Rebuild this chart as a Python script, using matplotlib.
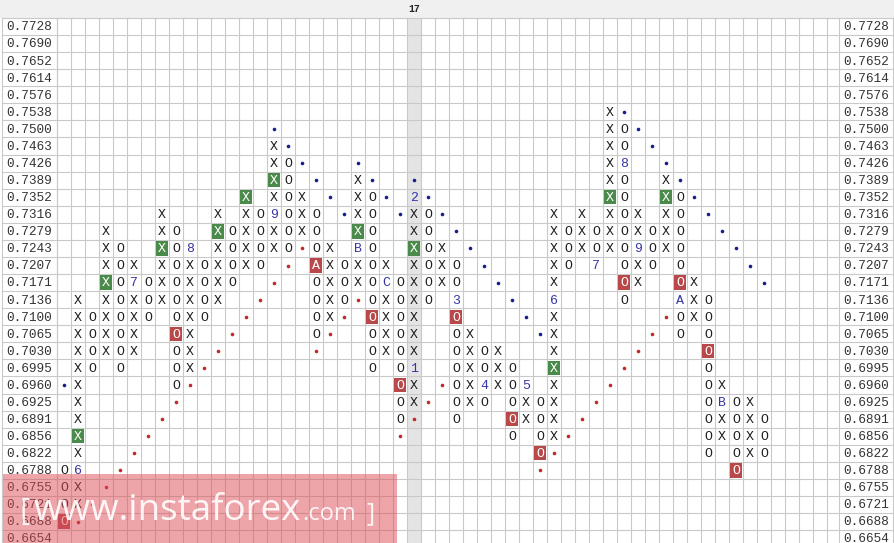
import matplotlib
matplotlib.use("Agg")
import matplotlib.pyplot as plt
from matplotlib.patches import Rectangle

# price levels, one per row (top to bottom)
prices = ["0.7728", "0.7690", "0.7652", "0.7614", "0.7576", "0.7538", "0.7500",
          "0.7463", "0.7426", "0.7389", "0.7352", "0.7316", "0.7279", "0.7243",
          "0.7207", "0.7171", "0.7136", "0.7100", "0.7065", "0.7030", "0.6995",
          "0.6960", "0.6925", "0.6891", "0.6856", "0.6822", "0.6788", "0.6755",
          "0.6721", "0.6688", "0.6654"]

# P&F columns: even = O column, odd = X column; row span (top row, bottom row)
col_top = [26, 16, 17, 12, 13, 14, 15, 11, 12, 13, 14, 11, 12, 10, 11, 7, 8, 10, 11, 13,
           14, 9, 10, 14, 15, 10, 11, 13, 14, 18, 19, 19, 20, 21, 22, 11, 12, 11, 12, 5,
           6, 11, 12, 9, 10, 15, 16, 21, 22, 22, 23]
col_bottom = [29, 28, 20, 19, 20, 19, 17, 16, 21, 20, 17, 16, 15, 14, 14, 13, 13, 12, 18, 17,
              16, 15, 20, 19, 23, 22, 16, 15, 23, 22, 22, 21, 24, 23, 25, 24, 14, 13, 14, 13,
              16, 15, 14, 13, 18, 17, 25, 24, 26, 25, 25]

# month markers (col, row, label)
months = [(1, 26, "6"), (5, 15, "7"), (9, 13, "8"), (15, 11, "9"), (18, 14, "A"),
          (21, 13, "B"), (23, 15, "C"), (25, 20, "1"), (25, 10, "2"), (28, 16, "3"),
          (30, 21, "4"), (33, 21, "5"), (35, 16, "6"), (38, 14, "7"), (40, 8, "8"),
          (41, 13, "9"), (44, 16, "A"), (47, 22, "B")]

# highlighted boxes
green_boxes = [(1, 24), (3, 15), (7, 13), (11, 12), (13, 10), (15, 9), (21, 12),
               (25, 13), (35, 20), (39, 10), (43, 10)]
red_boxes = [(0, 29), (8, 18), (18, 14), (22, 17), (24, 21), (28, 17), (32, 23),
             (34, 25), (40, 15), (44, 15), (46, 19), (48, 26)]

# trend lines
blue_dots = [(0, 21), (15, 6), (16, 7), (17, 8), (18, 9), (19, 10), (20, 11),
             (21, 8), (22, 9), (23, 10), (24, 11),
             (25, 9), (26, 10), (27, 11), (28, 12), (29, 13), (30, 14), (31, 15),
             (32, 16), (33, 17), (34, 18),
             (40, 5), (41, 6), (42, 7), (43, 8), (44, 9), (45, 10), (46, 11),
             (47, 12), (48, 13), (49, 14), (50, 15)]
red_dots = [(1, 29), (2, 28), (3, 27), (4, 26), (5, 25), (6, 24), (7, 23), (8, 22),
            (9, 21), (10, 20), (11, 19), (12, 18), (13, 17), (14, 16), (15, 15),
            (16, 14), (17, 13),
            (18, 19), (19, 18), (20, 17), (21, 16),
            (24, 24), (25, 23), (26, 22), (27, 21),
            (34, 26), (35, 25), (36, 24), (37, 23), (38, 22), (39, 21), (40, 20),
            (41, 19), (42, 18), (43, 17)]

header_col, header_text = 25, "17"

# layout (pixels)
W, H = 895, 543
CW, CH = 14.0, 17.07
LEFT, TOP = 57, 18
n_grid_cols = 56

x_left = -0.5 - LEFT / CW
x_right = x_left + W / CW
y_top = -0.5 - TOP / CH
y_bot = y_top + H / CH

def px_x(p):
    return x_left + p / CW

mono = "Liberation Mono"
grid_c = "#c9c9c9"

fig = plt.figure(figsize=(W / 100, H / 100), dpi=100)
ax = fig.add_axes([0, 0, 1, 1])
ax.set_xlim(x_left, x_right)
ax.set_ylim(y_bot, y_top)
ax.axis("off")

# header band and highlighted column
ax.add_patch(Rectangle((x_left, y_top), x_right - x_left, -0.5 - y_top, color="#f0f0f0", lw=0, zorder=0))
ax.add_patch(Rectangle((header_col - 0.5, -0.5), 1, y_bot + 0.5, color="#e4e4e4", lw=0, zorder=0))
ax.text(header_col, (y_top - 0.5) / 2, header_text, ha="center", va="center",
        fontsize=7, fontweight="bold", family=mono, color="#222222")

# grid
lw = 0.8
for k in range(n_grid_cols):
    ax.plot([k - 0.5, k - 0.5], [-0.5, y_bot], color=grid_c, lw=lw, zorder=1)
for p in [2, LEFT, 839, 893]:
    ax.plot([px_x(p), px_x(p)], [-0.5, y_bot], color=grid_c, lw=lw, zorder=1)
for r in range(len(prices) + 1):
    ax.plot([px_x(2), px_x(893)], [r - 0.5, r - 0.5], color=grid_c, lw=lw, zorder=1)

# price labels on both sides
for r, p in enumerate(prices):
    ax.text(px_x(6), r + 0.05, p, ha="left", va="center", fontsize=9.2, family=mono, color="#333333")
    ax.text(px_x(889), r + 0.05, p, ha="right", va="center", fontsize=9.2, family=mono, color="#333333")

month_map = {(c, r): t for c, r, t in months}
green_set = set(green_boxes)
red_set = set(red_boxes)
bw, bh = 0.9, 0.84

for c, (top, bot) in enumerate(zip(col_top, col_bottom)):
    sym = "X" if c % 2 else "O"
    for r in range(top, bot + 1):
        label = month_map.get((c, r), sym)
        if (c, r) in green_set or (c, r) in red_set:
            fc = "#4a8a4a" if (c, r) in green_set else "#b9484a"
            ax.add_patch(Rectangle((c - bw / 2, r - bh / 2), bw, bh, color=fc, lw=0, zorder=2))
            ax.text(c, r + 0.05, label, ha="center", va="center", fontsize=9.5,
                    family=mono, color="white", zorder=3)
        elif (c, r) in month_map:
            ax.text(c, r + 0.05, label, ha="center", va="center", fontsize=9.5,
                    family=mono, color="#3535a8", zorder=3)
        else:
            ax.text(c, r + 0.05, label, ha="center", va="center", fontsize=9.5,
                    family=mono, color="#1e1e1e", zorder=3)

ax.plot([c for c, r in blue_dots], [r for c, r in blue_dots], ls="none", marker="o",
        ms=2.6, color="#1c1c8c", mec="none", zorder=3)
ax.plot([c for c, r in red_dots], [r for c, r in red_dots], ls="none", marker="o",
        ms=2.6, color="#c02a2a", mec="none", zorder=3)

# watermark
fig.patches.append(Rectangle((3 / W, 0), 394 / W, 69 / H, transform=fig.transFigure,
                             facecolor=(0.87, 0.3, 0.34), alpha=0.5, lw=0, zorder=5))
base = (H - 520) / H
wm = dict(color="white", alpha=0.9, va="baseline", family="Open Sans", zorder=6)
fig.text(20 / W, base, "[", fontsize=22, **wm)
fig.text(34 / W, base, "www.instaforex", fontsize=26.5, **wm)
fig.text(302 / W, base, ".com", fontsize=17, **wm)
fig.text(366 / W, base, "]", fontsize=18, **wm)

fig.savefig("out.png", dpi=100)
